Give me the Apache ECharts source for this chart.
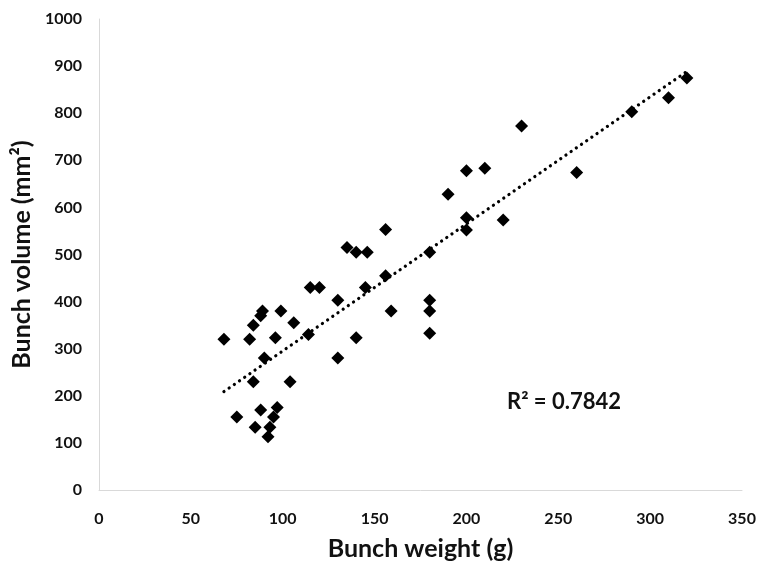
<!DOCTYPE html>
<html>
<head>
<meta charset="utf-8">
<script src="https://cdn.jsdelivr.net/npm/echarts@6/dist/echarts.min.js"></script>
<style>
  html, body { margin: 0; padding: 0; background: #fff; }
  #main { width: 768px; height: 572px; }
</style>
</head>
<body>
<div id="main"></div>
<script>
  // bunch weight (g) / bunch volume (mm2)
  var weight = [68, 75, 82, 84, 84, 85, 88, 88, 89, 90, 92, 93, 95, 96, 97, 99, 104, 106, 114, 115,
                120, 130, 130, 135, 140, 140, 145, 146, 156, 156, 159, 180, 180, 180, 180, 190, 200, 200, 200, 210,
                220, 230, 260, 290, 310, 320];
  var volume = [320, 155, 320, 350, 230, 133, 370, 170, 380, 280, 113, 133, 155, 323, 175, 380, 230, 355, 330, 430,
                430, 280, 403, 515, 505, 323, 430, 505, 553, 455, 380, 403, 380, 333, 505, 628, 678, 578, 552, 683,
                573, 773, 674, 803, 833, 875];
  var xTicks = [0, 50, 100, 150, 200, 250, 300, 350];
  var yTicks = [0, 100, 200, 300, 400, 500, 600, 700, 800, 900, 1000];
  var r2Text = 'R² = 0.7842';

  var points = weight.map(function (w, i) { return [w, volume[i]]; });

  // linear trend line (least squares)
  var n = weight.length, sx = 0, sy = 0, sxx = 0, sxy = 0;
  for (var i = 0; i < n; i++) {
    sx += weight[i]; sy += volume[i];
    sxx += weight[i] * weight[i]; sxy += weight[i] * volume[i];
  }
  var slope = (n * sxy - sx * sy) / (n * sxx - sx * sx);
  var icpt = (sy - slope * sx) / n;
  var xMin = Math.min.apply(null, weight), xMax = Math.max.apply(null, weight);
  var trend = [[xMin, icpt + slope * xMin], [xMax, icpt + slope * xMax]];

  var font = 'Lato, "Open Sans", sans-serif';
  var txt = '#111';
  var chart = echarts.init(document.getElementById('main'));
  var option = {
    animation: false,
    grid: { left: 99, right: 26, top: 19, bottom: 82 },
    xAxis: {
      type: 'value',
      min: xTicks[0], max: xTicks[xTicks.length - 1], interval: 50,
      name: 'Bunch weight (g)', nameLocation: 'middle', nameGap: 46,
      nameTextStyle: { fontFamily: font, fontWeight: 'bold', fontSize: 25, color: txt },
      axisLine: { show: true, lineStyle: { color: '#d9d9d9', width: 1 } },
      axisTick: { show: false },
      splitLine: { show: false },
      axisLabel: { margin: 21, fontFamily: font, fontWeight: 'bold', fontSize: 16, color: txt,
                   formatter: function (v) { return String(v); } }
    },
    yAxis: {
      type: 'value',
      min: yTicks[0], max: yTicks[yTicks.length - 1], interval: 100,
      name: 'Bunch volume (mm²)', nameLocation: 'middle', nameGap: 58,
      nameTextStyle: { fontFamily: font, fontWeight: 'bold', fontSize: 25, color: txt },
      axisLine: { show: true, lineStyle: { color: '#d9d9d9', width: 1 } },
      axisTick: { show: false },
      splitLine: { show: false },
      axisLabel: { margin: 17, fontFamily: font, fontWeight: 'bold', fontSize: 16, color: txt,
                   formatter: function (v) { return String(v); } }
    },
    series: [
      {
        type: 'line',
        data: trend,
        showSymbol: false,
        lineStyle: { color: '#000', width: 3.2, type: [0.1, 6.2], cap: 'round' },
        z: 1
      },
      {
        type: 'scatter',
        data: points,
        symbol: 'diamond',
        symbolSize: 13,
        itemStyle: { color: '#000', opacity: 1 },
        z: 2
      }
    ],
    graphic: [
      {
        type: 'text', left: 507, top: 391,
        style: { text: r2Text, fontFamily: font, fontWeight: 'bold', fontSize: 22, fill: txt }
      }
    ]
  };
  chart.setOption(option);
</script>
</body>
</html>
